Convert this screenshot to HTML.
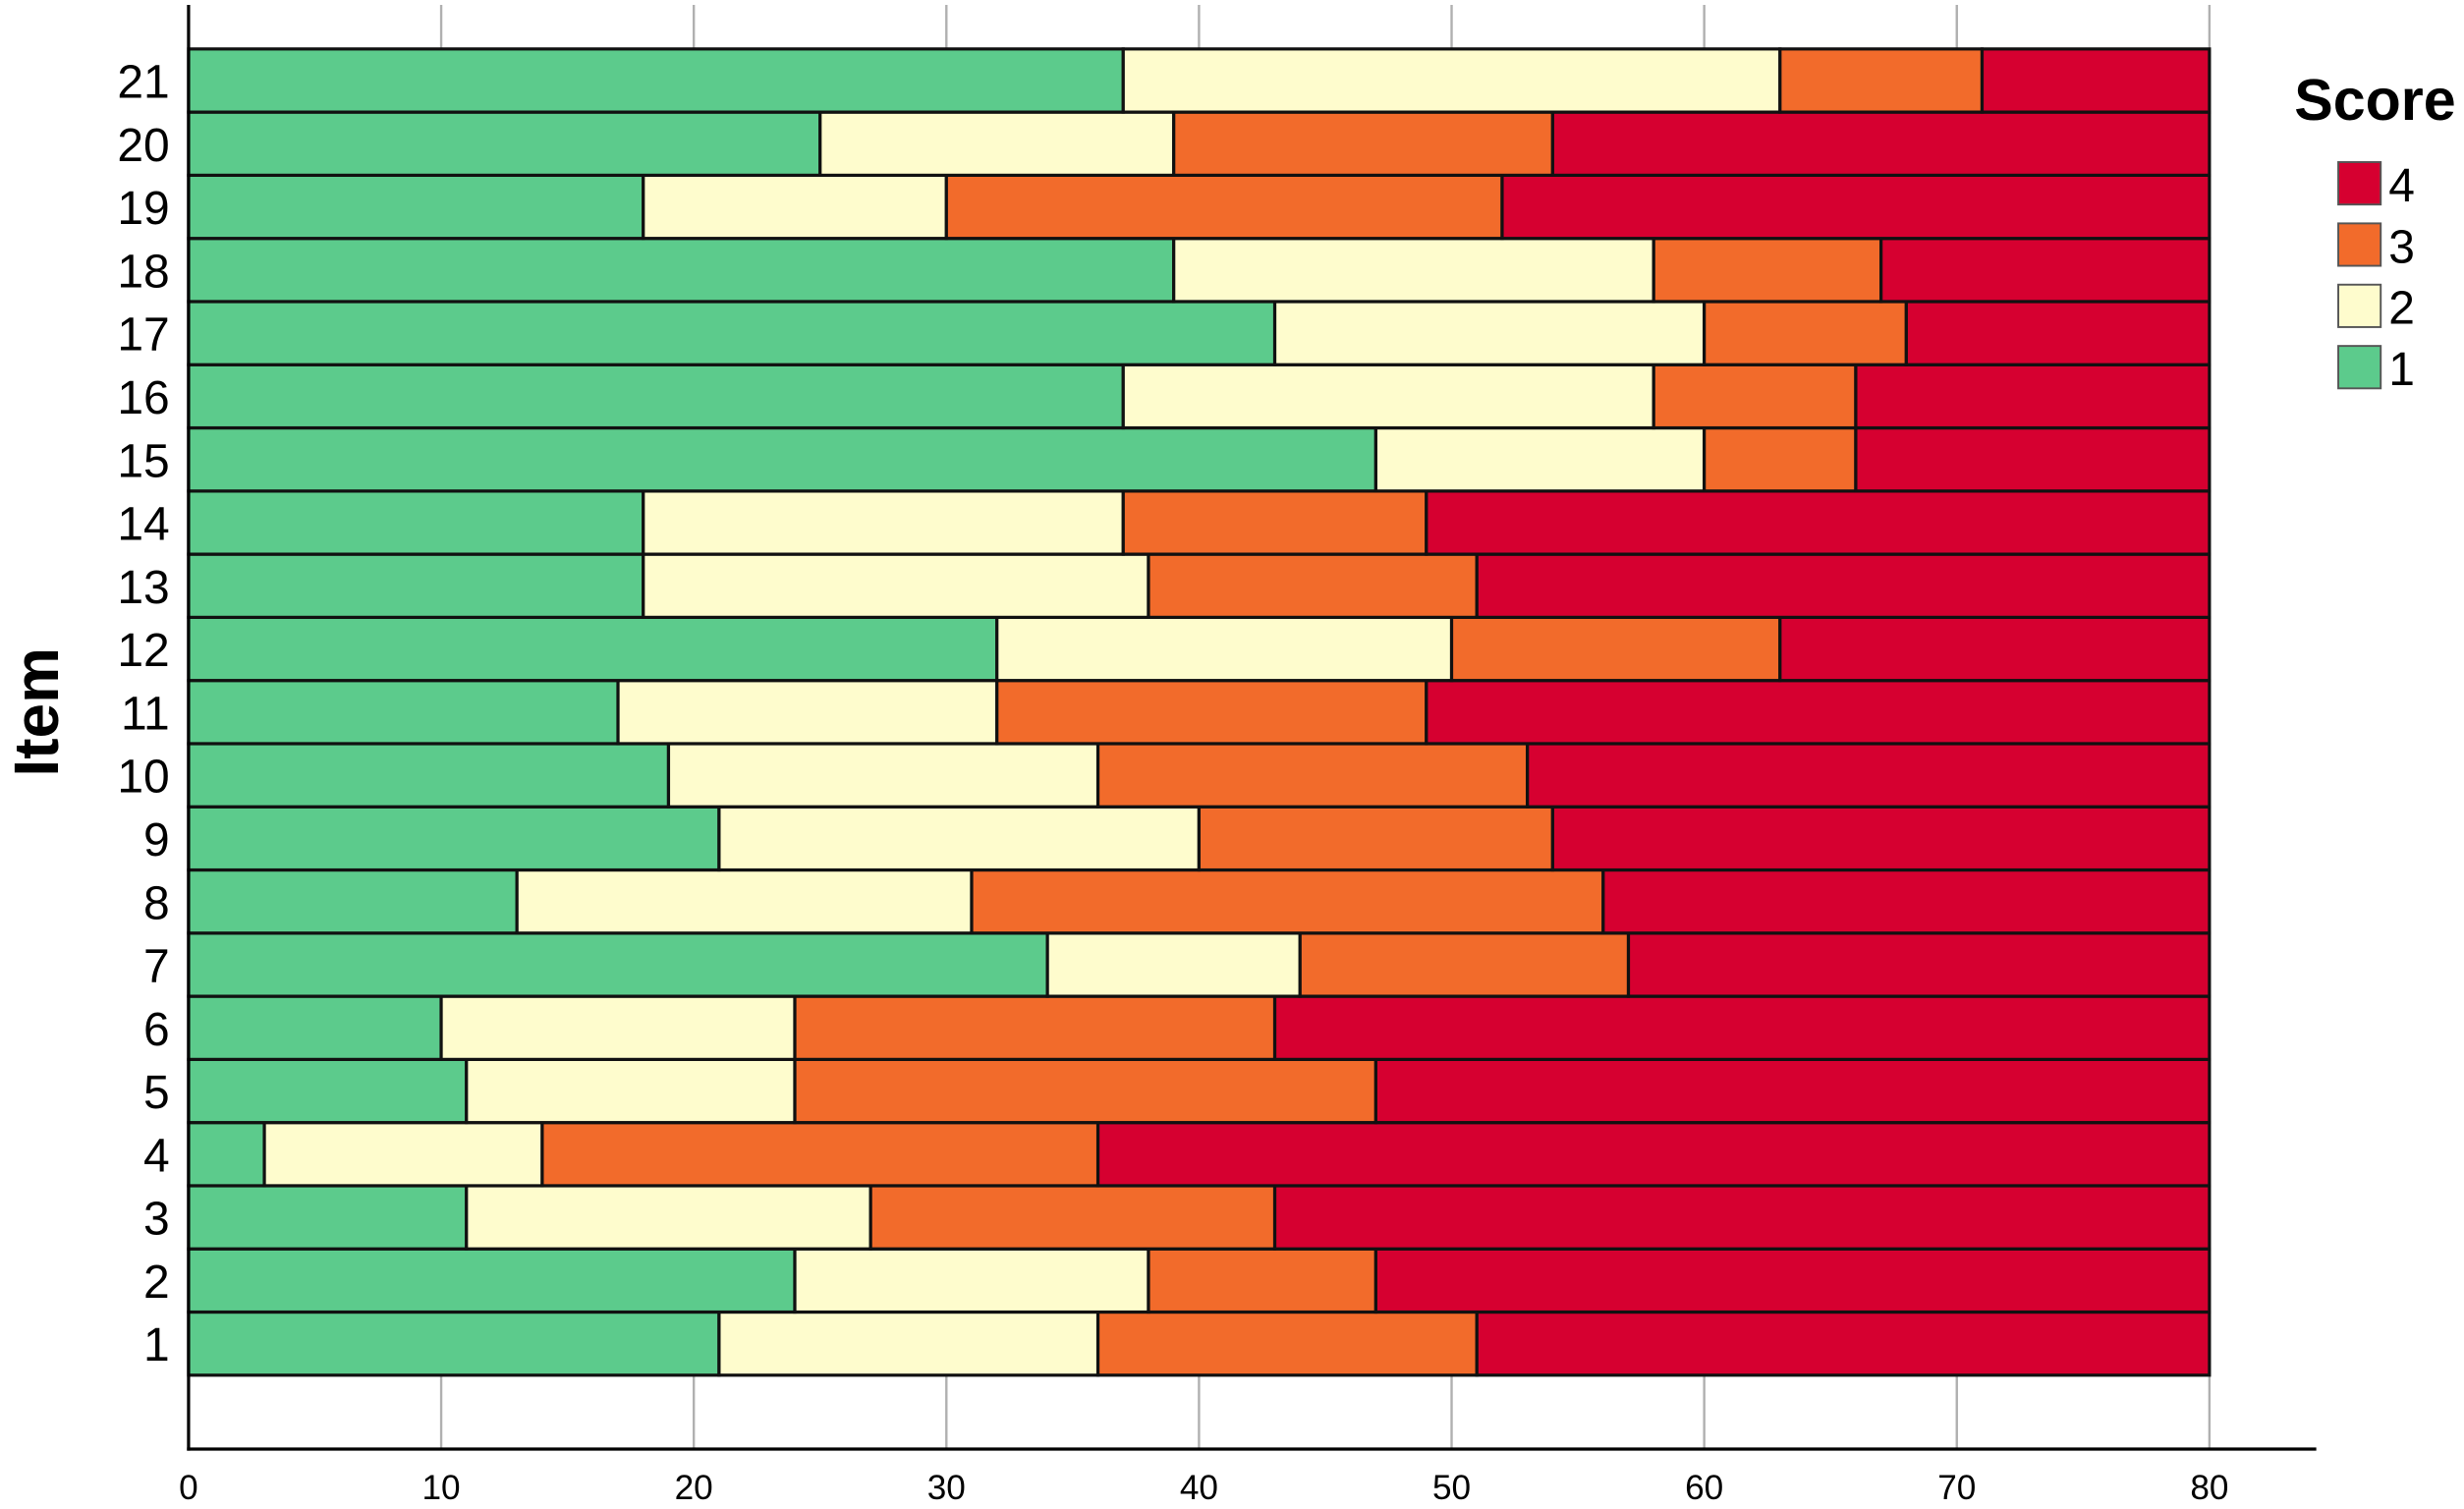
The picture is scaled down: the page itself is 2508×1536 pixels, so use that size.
<!DOCTYPE html>
<html><head><meta charset="utf-8"><style>
html,body{margin:0;padding:0;background:#fff;}
svg{display:block;}
text{font-family:"Liberation Sans",Arial,sans-serif;}
</style></head><body>
<svg id="chart" width="2508" height="1536" viewBox="0 0 1568 960" xmlns="http://www.w3.org/2000/svg">
<g id="grid"></g>
<g id="bars"></g>
<g id="axes"></g>
<text x="0" y="0" transform="translate(37,453) rotate(-90)" text-anchor="middle" font-size="40" font-weight="bold">Item</text>
<g>
<text x="1460" y="76" font-size="37" font-weight="bold">Score</text>
</g>
<g id="legend-items"></g>
</svg>
<script>
const items = [1,2,3,4,5,6,7,8,9,10,11,12,13,14,15,16,17,18,19,20,21];
const score1 = [21,24,11,3,11,10,34,13,21,19,17,32,18,18,47,37,43,39,18,25,37];
const score2 = [15,14,16,11,13,14,10,18,19,17,15,18,20,19,13,21,17,19,12,14,26];
const score3 = [15,9,16,22,23,19,13,25,14,17,17,13,13,12,6,8,8,9,22,15,8];
const score4 = [29,33,37,44,33,37,23,24,26,27,31,17,29,31,14,14,12,13,28,26,9];
const xTicks = [0,10,20,30,40,50,60,70,80];
const scoreLabels = ["1","2","3","4"];
const colors = ["#5ccb8c","#fefccd","#f26b2b","#d60030"];

const NS = "http://www.w3.org/2000/svg";
const X0 = 120, X1 = 1406, XMAX = 80;
const TOP = 31, BOT = 875, PLOT_TOP = 3, AXIS_Y = 922;
const x = v => X0 + (X1 - X0) * v / XMAX;
const pitch = (BOT - TOP) / items.length;
const yTop = i => BOT - (i + 1) * pitch;
function mk(tag, attrs, parent){const e=document.createElementNS(NS,tag);for(const k in attrs)e.setAttribute(k,attrs[k]);parent.appendChild(e);return e;}

const grid = document.getElementById('grid');
xTicks.forEach(t=>{
  if(t===0) return;
  const l = mk('line',{x1:x(t),x2:x(t),y1:PLOT_TOP,y2:AXIS_Y,stroke:'#b0b0b0','stroke-width':1.5},grid);
  
  
});

const bars = document.getElementById('bars');
const series = [score1,score2,score3,score4];
items.forEach((it,i)=>{
  let acc = 0;
  series.forEach((s,k)=>{
    const v = s[i];
    const r = mk('rect',{x:x(acc),y:yTop(i),width:x(acc+v)-x(acc),height:pitch,fill:colors[k],stroke:'#111','stroke-width':2},bars);
    
    
    acc += v;
  });
});

const axes = document.getElementById('axes');
const ya = mk('line',{x1:X0,x2:X0,y1:PLOT_TOP,y2:AXIS_Y+1,stroke:'#000','stroke-width':2},axes);


const xa = mk('line',{x1:X0-1,x2:1474,y1:AXIS_Y,y2:AXIS_Y,stroke:'#000','stroke-width':2},axes);


xTicks.forEach(t=>{
  const tx = mk('text',{x:x(t),y:954,'text-anchor':'middle','font-size':22,fill:'#000'},axes);
  tx.textContent = t;
  
  
});
items.forEach((it,i)=>{
  const tx = mk('text',{x:108,y:yTop(i)+pitch/2+11,'text-anchor':'end','font-size':30,fill:'#000'},axes);
  tx.textContent = it;
  
  
});

const lg = document.getElementById('legend-items');
[3,2,1,0].forEach((k,j)=>{
  const y0 = 103 + j*39;
  const r = mk('rect',{x:1488,y:y0,width:27,height:27,fill:colors[k],stroke:'#555','stroke-width':1.2},lg);
  
  
  const t = mk('text',{x:1520,y:y0+25,'font-size':30,fill:'#000'},lg);
  t.textContent = scoreLabels[k];
  
  
});
</script>
</body></html>
